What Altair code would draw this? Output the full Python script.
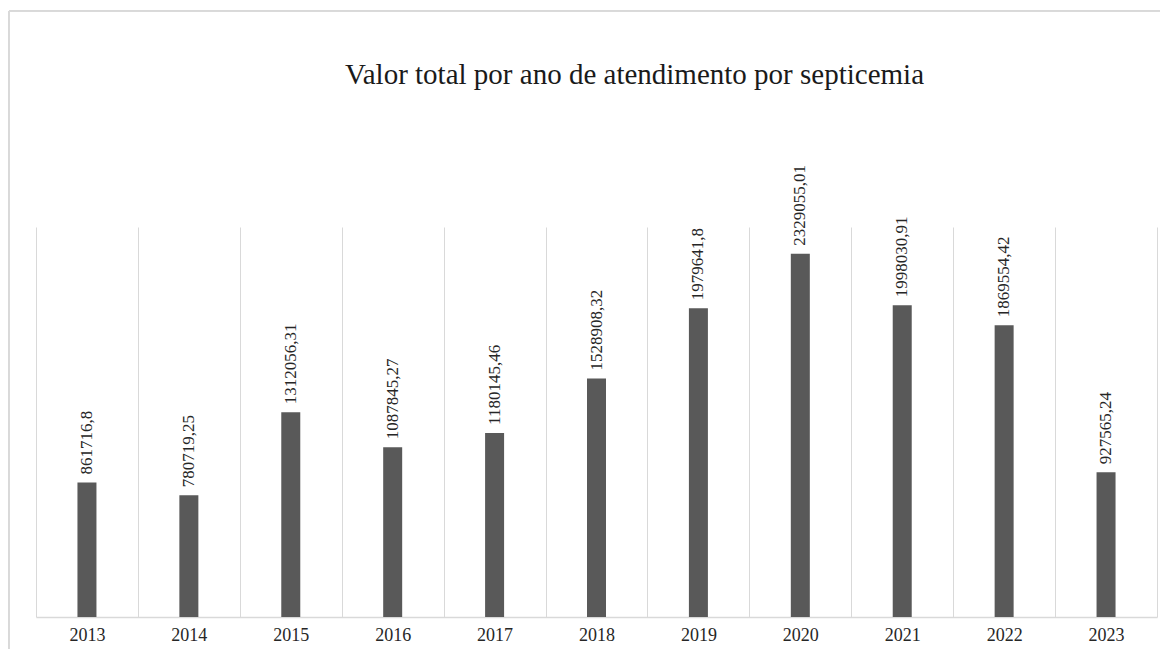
import altair as alt
import pandas as pd

anos = ["2013", "2014", "2015", "2016", "2017", "2018", "2019", "2020", "2021", "2022", "2023"]
valores = [861716.8, 780719.25, 1312056.31, 1087845.27, 1180145.46, 1528908.32,
           1979641.8, 2329055.01, 1998030.91, 1869554.42, 927565.24]
rotulos = [repr(v).replace(".", ",") for v in valores]

titulo = "Valor total por ano de atendimento por septicemia"

df = pd.DataFrame({"ano": anos, "valor": valores, "rotulo": rotulos})

SERIF = "Liberation Serif"
GRID = "#d9d9d9"

x = alt.X(
    "ano:N",
    sort=anos,
    scale=alt.Scale(paddingInner=0, paddingOuter=0),
    axis=alt.Axis(
        title=None,
        labelAngle=0,
        tickBand="extent",
        grid=True,
        gridColor=GRID,
        gridWidth=1,
        ticks=False,
        domainColor=GRID,
        domainWidth=1.5,
        labelFont=SERIF,
        labelFontSize=18,
        labelColor="#262626",
        labelPadding=9,
    ),
)
y = alt.Y("valor:Q", scale=alt.Scale(domain=[0, 2500000]), axis=None)

base = alt.Chart(df)

bars = base.mark_bar(width=19, color="#595959").encode(x=x, y=y)

labels = base.mark_text(
    angle=270, align="left", baseline="middle", dx=8,
    font=SERIF, fontSize=17, color="#262626",
).encode(x=x, y=y, text="rotulo:N")

frame_top = alt.Chart(df).mark_rule(color=GRID, strokeWidth=1).encode(
    x=alt.value(-27), x2=alt.value(1200), y=alt.value(-216)
)
frame_left = alt.Chart(df).mark_rule(color=GRID, strokeWidth=1).encode(
    x=alt.value(-27), y=alt.value(-216), y2=alt.value(500)
)

chart = (
    alt.layer(frame_top, frame_left, bars, labels)
    .properties(
        width=1121,
        height=390,
        view=alt.ViewBackground(stroke="transparent", strokeWidth=0, strokeOpacity=0),
        autosize=alt.AutoSizeParams(type="none"),
        padding={"left": 28, "top": 219, "right": 3, "bottom": 32},
        title=alt.TitleParams(
            titulo,
            font=SERIF,
            fontSize=29,
            fontWeight="normal",
            color="#1a1a1a",
            anchor="middle",
            frame="group",
            dx=38,
            baseline="alphabetic",
            offset=-102,
        ),
    )
    .configure_view(strokeWidth=0, stroke="transparent", strokeOpacity=0)
    .configure(background="white")
)

chart.save("out.html", embed_options={"renderer": "svg", "actions": False})
